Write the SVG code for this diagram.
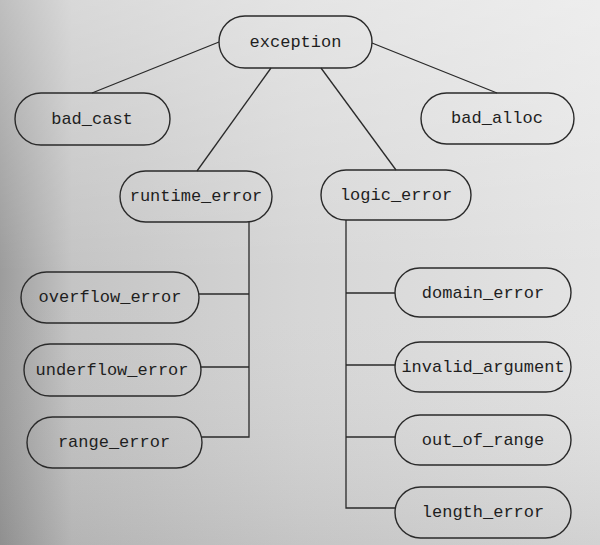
<svg xmlns="http://www.w3.org/2000/svg" width="600" height="545" viewBox="0 0 600 545">
<defs>
<linearGradient id="bg" x1="0" y1="0" x2="1" y2="0">
<stop offset="0" stop-color="#9c9c9c"/>
<stop offset="0.12" stop-color="#c4c4c4"/>
<stop offset="0.5" stop-color="#d6d6d6"/>
<stop offset="1" stop-color="#e4e4e4"/>
</linearGradient>
<linearGradient id="bgv" x1="0" y1="0" x2="0" y2="1">
<stop offset="0" stop-color="#ffffff" stop-opacity="0.35"/>
<stop offset="0.5" stop-color="#ffffff" stop-opacity="0"/>
<stop offset="1" stop-color="#000000" stop-opacity="0.08"/>
</linearGradient>
</defs>
<style>
.n rect { fill: none; stroke: #2a2a2a; stroke-width: 1.4; }
.n text { font-family: "Liberation Mono", "DejaVu Sans Mono", monospace; font-size: 17px; fill: #1e1e1e; text-anchor: middle; dominant-baseline: central; }
#edges line, #edges polyline { stroke: #2a2a2a; stroke-width: 1.3; fill: none; }
</style>
<rect width="600" height="545" fill="url(#bg)"/>
<rect width="600" height="545" fill="url(#bgv)"/>
<g id="edges">
<line x1="219" y1="42" x2="92" y2="93"/>
<line x1="372" y1="43" x2="497" y2="93"/>
<line x1="271" y1="68" x2="197" y2="171"/>
<line x1="321" y1="68" x2="396" y2="170"/>
<polyline points="249,222 249,437 202,437"/>
<line x1="199" y1="294" x2="249" y2="294"/>
<line x1="201" y1="367" x2="249" y2="367"/>
<polyline points="346,220 346,508 395,508"/>
<line x1="346" y1="293" x2="395" y2="293"/>
<line x1="346" y1="365" x2="395" y2="365"/>
<line x1="346" y1="437" x2="395" y2="437"/>
</g>
<g id="exception" class="n"><rect x="219" y="16" width="153" height="52" rx="26"/><text x="295.5" y="42">exception</text></g>
<g id="bad_cast" class="n"><rect x="15" y="93" width="155" height="52" rx="26"/><text x="92" y="119">bad_cast</text></g>
<g id="bad_alloc" class="n"><rect x="421" y="93" width="153" height="51" rx="25.5"/><text x="497" y="118">bad_alloc</text></g>
<g id="runtime_error" class="n"><rect x="120" y="171" width="152" height="51" rx="25.5"/><text x="196" y="196">runtime_error</text></g>
<g id="logic_error" class="n"><rect x="321" y="170" width="150" height="50" rx="25"/><text x="396" y="195">logic_error</text></g>
<g id="overflow_error" class="n"><rect x="21" y="272" width="178" height="51" rx="25.5"/><text x="110" y="297">overflow_error</text></g>
<g id="underflow_error" class="n"><rect x="24" y="344" width="177" height="52" rx="26"/><text x="112" y="370">underflow_error</text></g>
<g id="range_error" class="n"><rect x="27" y="417" width="175" height="51" rx="25.5"/><text x="114" y="442">range_error</text></g>
<g id="domain_error" class="n"><rect x="395" y="268" width="176" height="49" rx="24.5"/><text x="483" y="293">domain_error</text></g>
<g id="invalid_argument" class="n"><rect x="395" y="342" width="176" height="50" rx="25"/><text x="483" y="367">invalid_argument</text></g>
<g id="out_of_range" class="n"><rect x="395" y="415" width="176" height="50" rx="25"/><text x="483" y="440">out_of_range</text></g>
<g id="length_error" class="n"><rect x="395" y="487" width="176" height="51" rx="25.5"/><text x="483" y="512">length_error</text></g>
</svg>
